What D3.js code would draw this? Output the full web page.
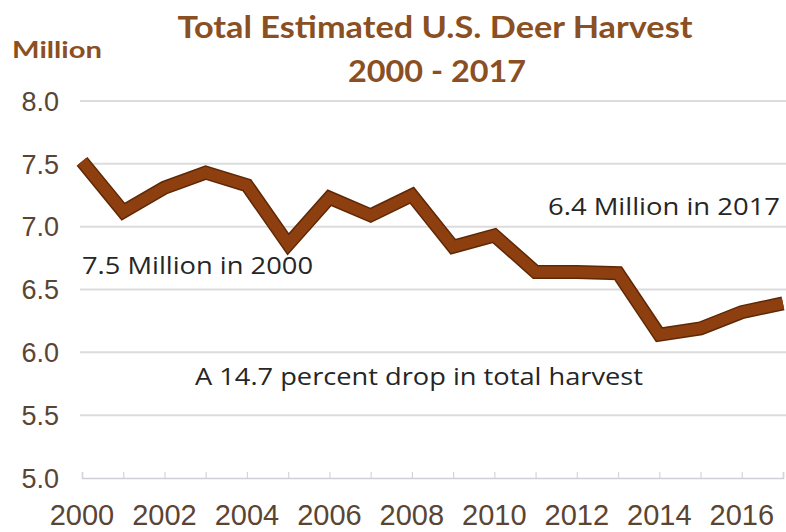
<!DOCTYPE html>
<html>
<head>
<meta charset="utf-8">
<script src="https://cdn.jsdelivr.net/npm/d3@7"></script>
<style>
  html, body { margin: 0; padding: 0; background: #ffffff; }
  svg { display: block; }
</style>
</head>
<body>
<svg id="chart" width="786" height="532"></svg>
<script>
// ---- data ----
const years = [2000,2001,2002,2003,2004,2005,2006,2007,2008,2009,2010,2011,2012,2013,2014,2015,2016,2017];
const harvest = [7.52,7.12,7.31,7.43,7.33,6.86,7.23,7.09,7.25,6.84,6.93,6.64,6.64,6.63,6.14,6.19,6.32,6.39];
const yTicks = [5.0,5.5,6.0,6.5,7.0,7.5,8.0];
const xTickLabels = [2000,2002,2004,2006,2008,2010,2012,2014,2016];
const titleLines = ["Total Estimated U.S. Deer Harvest", "2000 - 2017"];
const yUnit = "Million";
const annotations = [
  {text: "7.5 Million in 2000", year: 2000, value: 6.62},
  {text: "6.4 Million in 2017", year: 2017, value: 7.09},
  {text: "A 14.7 percent drop in total harvest", year: 2002.75, value: 5.74}
];

// ---- layout ----
const svg = d3.select("#chart");
const x = d3.scaleLinear().domain([2000, 2017]).range([82, 783]);
const y = d3.scaleLinear().domain([5.0, 8.0]).range([478, 101]);

const brown = "#8a4f22";
const labelColor = "#5a4534";

// gridlines
svg.append("g")
  .selectAll("line")
  .data(yTicks.filter(d => d > 5.0))
  .join("line")
  .attr("x1", 80).attr("x2", 786)
  .attr("y1", d => y(d)).attr("y2", d => y(d))
  .attr("stroke", "#dcdcdc").attr("stroke-width", 2);

// x axis baseline + ticks
const xAxis = d3.axisBottom(x).tickValues(years).tickSize(-6).tickFormat("");
const gx = svg.append("g").attr("transform", `translate(0,${y(5.0)})`).call(xAxis);
gx.select(".domain").attr("stroke", "#cfcfd8").attr("stroke-width", 1.5);
gx.selectAll(".tick line").attr("stroke", "#d4d4dc").attr("stroke-width", 1.2);

// x tick labels
svg.append("g")
  .selectAll("text")
  .data(xTickLabels)
  .join("text")
  .attr("x", d => x(d))
  .attr("y", y(5.0) + 47)
  .attr("text-anchor", "middle")
  .attr("font-family", "Liberation Sans, Arial, sans-serif")
  .attr("font-size", 29)
  .attr("fill", labelColor)
  .text(d => d);

// y tick labels
svg.append("g")
  .selectAll("text")
  .data(yTicks)
  .join("text")
  .attr("x", 59)
  .attr("y", d => y(d))
  .attr("dy", "0.36em")
  .attr("text-anchor", "end")
  .attr("font-family", "Liberation Sans, Arial, sans-serif")
  .attr("font-size", 27)
  .attr("fill", labelColor)
  .text(d => d.toFixed(1));

// line
const line = d3.line().x((d, i) => x(years[i])).y(d => y(d));
svg.append("path")
  .datum(harvest)
  .attr("d", line)
  .attr("fill", "none")
  .attr("stroke", "#5e2806")
  .attr("stroke-width", 14)
  .attr("stroke-linejoin", "miter");
svg.append("path")
  .datum(harvest)
  .attr("d", line)
  .attr("fill", "none")
  .attr("stroke", "#8e3f10")
  .attr("stroke-width", 11)
  .attr("stroke-linejoin", "miter");

// title
svg.append("text")
  .attr("x", 435).attr("y", 38)
  .attr("text-anchor", "middle")
  .attr("font-family", "Lato, Open Sans, sans-serif")
  .attr("font-weight", "bold")
  .attr("font-size", 30)
  .attr("fill", brown)
  .attr("textLength", 515).attr("lengthAdjust", "spacingAndGlyphs")
  .text(titleLines[0]);
svg.append("text")
  .attr("x", 437).attr("y", 82)
  .attr("text-anchor", "middle")
  .attr("font-family", "Lato, Open Sans, sans-serif")
  .attr("font-weight", "bold")
  .attr("font-size", 30)
  .attr("fill", brown)
  .attr("textLength", 178).attr("lengthAdjust", "spacingAndGlyphs")
  .text(titleLines[1]);

// unit label
svg.append("text")
  .attr("x", 12).attr("y", 58)
  .attr("font-family", "Lato, Open Sans, sans-serif")
  .attr("font-weight", "bold")
  .attr("font-size", 22)
  .attr("fill", brown)
  .attr("textLength", 90).attr("lengthAdjust", "spacingAndGlyphs")
  .text(yUnit);

// annotations
const annLen = [231, 232, 448];
const annAnchor = ["start", "end", "start"];
svg.append("g")
  .selectAll("text")
  .data(annotations)
  .join("text")
  .attr("x", (d, i) => i === 0 ? 82 : (i === 1 ? 780 : 195))
  .attr("y", d => y(d.value))
  .attr("text-anchor", (d, i) => annAnchor[i])
  .attr("font-family", "Open Sans, Lato, sans-serif")
  .attr("font-size", 23)
  .attr("fill", "#262626")
  .attr("textLength", (d, i) => annLen[i]).attr("lengthAdjust", "spacingAndGlyphs")
  .text(d => d.text);
</script>
</body>
</html>
